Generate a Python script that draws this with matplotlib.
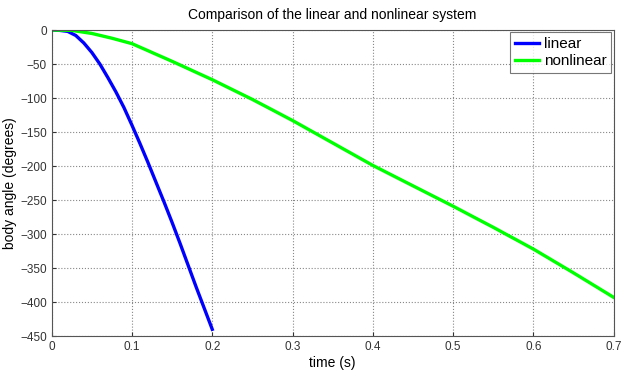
import matplotlib
matplotlib.use('Agg')
import matplotlib.pyplot as plt

# --- data ---
t_linear = [0, 0.01, 0.02, 0.03, 0.04, 0.05, 0.06, 0.07, 0.08, 0.09, 0.10,
            0.11, 0.12, 0.13, 0.14, 0.15, 0.16, 0.17, 0.18, 0.19, 0.20]
angle_linear = [0, -0.5, -2, -8, -19, -33, -50, -70, -91, -114, -140,
                -167, -195, -224, -253, -283, -314, -346, -378, -409, -440]

t_nonlinear = [0, 0.025, 0.05, 0.075, 0.10, 0.15, 0.20, 0.25, 0.30, 0.35,
               0.40, 0.45, 0.50, 0.55, 0.60, 0.65, 0.70]
angle_nonlinear = [0, -0.5, -5, -12, -20, -46, -73, -102, -133, -166,
                   -199, -229, -259, -290, -322, -357, -393]

x_ticks = [0, 0.1, 0.2, 0.3, 0.4, 0.5, 0.6, 0.7]
x_tick_labels = ['0', '0.1', '0.2', '0.3', '0.4', '0.5', '0.6', '0.7']
y_ticks = [0, -50, -100, -150, -200, -250, -300, -350, -400, -450]

plt.rcParams['font.family'] = ['Liberation Sans', 'DejaVu Sans']

fig = plt.figure(figsize=(6.23, 3.71), dpi=100)
ax = fig.add_axes([0.083, 0.094, 0.902, 0.825])

ax.plot(t_linear, angle_linear, color='#0000ff', lw=2.4, label='linear')
ax.plot(t_nonlinear, angle_nonlinear, color='#00ff00', lw=2.4, label='nonlinear')

ax.set_xlim(0, 0.7)
ax.set_ylim(-450, 0)
ax.set_xticks(x_ticks)
ax.set_xticklabels(x_tick_labels)
ax.set_yticks(y_ticks)
ax.grid(True, linestyle=':', color='#888888', lw=0.8)
ax.tick_params(direction='in', labelsize=8.5, colors='#333333', length=3)
for s in ax.spines.values():
    s.set_color('#555555')
    s.set_linewidth(0.8)

ax.set_title('Comparison of the linear and nonlinear system', fontsize=10, pad=8)
ax.set_xlabel('time (s)', fontsize=10, labelpad=2)
ax.set_ylabel('body angle (degrees)', fontsize=10, labelpad=2)

leg = ax.legend(loc='upper right', fontsize=11, frameon=True, fancybox=False,
                borderpad=0.3, handlelength=1.6, handletextpad=0.3,
                labelspacing=0.2, borderaxespad=0.15)
leg.get_frame().set_edgecolor('#555555')
leg.get_frame().set_linewidth(0.8)

fig.savefig('out.png', dpi=100)
